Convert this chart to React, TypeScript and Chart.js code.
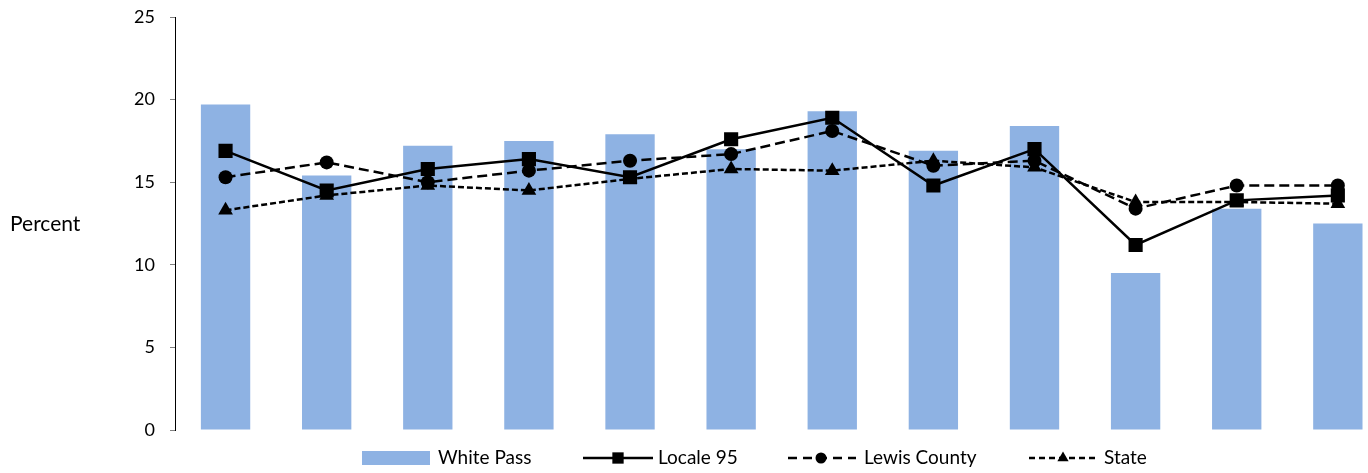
import React, { useEffect, useRef } from "react";
import { Chart, registerables } from "chart.js";

Chart.register(...registerables);

const categories = ["1", "2", "3", "4", "5", "6", "7", "8", "9", "10", "11", "12"];
const whitePass = [19.7, 15.4, 17.2, 17.5, 17.9, 17.0, 19.3, 16.9, 18.4, 9.5, 13.4, 12.5];
const locale95 = [16.9, 14.5, 15.8, 16.4, 15.3, 17.6, 18.9, 14.8, 17.0, 11.2, 13.9, 14.2];
const lewisCounty = [15.3, 16.2, 15.0, 15.7, 16.3, 16.7, 18.1, 16.0, 16.3, 13.4, 14.8, 14.8];
const stateVals = [13.3, 14.2, 14.8, 14.5, 15.2, 15.8, 15.7, 16.3, 15.9, 13.8, 13.8, 13.7];
const yTicks = [0, 5, 10, 15, 20, 25];
const yTitle = "Percent";
const seriesNames = ["White Pass", "Locale 95", "Lewis County", "State"];

const FONT = "Lato, 'Open Sans', sans-serif";
const BAR_COLOR = "rgb(142,178,227)";

const legendPlugin = {
  id: "customLegendAndTitle",
  afterDraw(chart: any) {
    const ctx = chart.ctx;
    ctx.save();
    ctx.fillStyle = "#000";
    ctx.textBaseline = "middle";
    ctx.textAlign = "left";
    ctx.font = `21px ${FONT}`;
    ctx.fillText(yTitle, 10, 224);

    ctx.font = `19px ${FONT}`;
    const ly = 458;
    const ds = chart.data.datasets;
    ctx.fillStyle = ds[0].backgroundColor;
    ctx.fillRect(362, 451, 68, 14);
    ctx.fillStyle = "#000";
    ctx.fillText(ds[0].label, 438, ly);

    const items = [
      { d: ds[1], x0: 583, x1: 653, mx: 618, tx: 658, dash: [] as number[], r: 8 },
      { d: ds[2], x0: 788, x1: 856, mx: 821, tx: 864, dash: [9, 6], r: 5.5 },
      { d: ds[3], x0: 1029, x1: 1097, mx: 1063, tx: 1104, dash: [6, 4], r: 6.5 },
    ];
    for (const it of items) {
      ctx.save();
      ctx.strokeStyle = "#000";
      ctx.lineWidth = it.d.borderWidth;
      ctx.setLineDash(it.dash);
      ctx.beginPath();
      ctx.moveTo(it.x0, ly);
      ctx.lineTo(it.x1, ly);
      ctx.stroke();
      ctx.restore();
      const cx = it.mx;
      ctx.save();
      ctx.fillStyle = "#000";
      const style = it.d.pointStyle;
      const r = it.r;
      ctx.beginPath();
      if (style === "rect") {
        const s = Math.SQRT1_2 * r;
        ctx.rect(cx - s, ly - s, 2 * s, 2 * s);
      } else if (style === "circle") {
        ctx.arc(cx, ly, r, 0, Math.PI * 2);
      } else {
        ctx.moveTo(cx, ly - r);
        ctx.lineTo(cx + r * Math.sin((2 * Math.PI) / 3), ly + r * 0.5);
        ctx.lineTo(cx - r * Math.sin((2 * Math.PI) / 3), ly + r * 0.5);
        ctx.closePath();
      }
      ctx.fill();
      ctx.restore();
      ctx.fillStyle = "#000";
      ctx.fillText(it.d.label, it.tx, ly);
    }
    ctx.restore();
  },
};

export default function App() {
  const ref = useRef<HTMLCanvasElement | null>(null);
  useEffect(() => {
    if (!ref.current) return;
    const chart = new Chart(ref.current, {
      type: "bar",
      data: {
        labels: categories,
        datasets: [
          {
            type: "bar",
            label: seriesNames[0],
            data: whitePass,
            backgroundColor: BAR_COLOR,
            borderWidth: 0,
            categoryPercentage: 1,
            barPercentage: 0.488,
            order: 10,
          } as any,
          {
            type: "line",
            label: seriesNames[1],
            data: locale95,
            borderColor: "#000",
            backgroundColor: "#000",
            borderWidth: 2.5,
            pointStyle: "rect",
            pointRadius: 10,
            pointBorderWidth: 0,
            pointBackgroundColor: "#000",
            tension: 0,
            order: 1,
          },
          {
            type: "line",
            label: seriesNames[2],
            data: lewisCounty,
            borderColor: "#000",
            backgroundColor: "#000",
            borderWidth: 2.5,
            borderDash: [10, 5],
            pointStyle: "circle",
            pointRadius: 7,
            pointBorderWidth: 0,
            pointBackgroundColor: "#000",
            tension: 0,
            order: 2,
          },
          {
            type: "line",
            label: seriesNames[3],
            data: stateVals,
            borderColor: "#000",
            backgroundColor: "#000",
            borderWidth: 2.5,
            borderDash: [6, 3],
            pointStyle: "triangle",
            pointRadius: 8.5,
            pointBorderWidth: 0,
            pointBackgroundColor: "#000",
            tension: 0,
            order: 3,
          },
        ],
      },
      options: {
        animation: false,
        responsive: false,
        maintainAspectRatio: false,
        layout: { padding: { top: 17, bottom: 43, left: 0, right: 11.6 } },
        plugins: { legend: { display: false }, tooltip: { enabled: false } },
        scales: {
          x: {
            display: false,
            offset: true,
            grid: { display: false },
          },
          y: {
            min: 0,
            max: 25,
            afterBuildTicks: (scale: any) => {
              scale.ticks = yTicks.map((v) => ({ value: v }));
            },
            afterFit: (scale: any) => {
              scale.width = 175;
              scale.paddingTop = 0;
              scale.paddingBottom = 0;
            },
            ticks: {
              color: "#000",
              font: { family: FONT, size: 18 },
              padding: 15,
            },
            grid: {
              drawOnChartArea: false,
              drawTicks: true,
              tickLength: 5,
              tickColor: "#7f7f7f",
              tickWidth: 1,
            },
            border: { display: true, color: "#000", width: 1 },
          },
        },
      },
      plugins: [legendPlugin],
    });
    return () => chart.destroy();
  }, []);
  return (
    <div
      style={{
        position: "absolute",
        left: 0,
        top: 0,
        width: 1368,
        height: 473,
        overflow: "hidden",
        background: "#fff",
      }}
    >
      <canvas ref={ref} width={1400} height={473} style={{ display: "block", width: 1400, height: 473 }} />
    </div>
  );
}
